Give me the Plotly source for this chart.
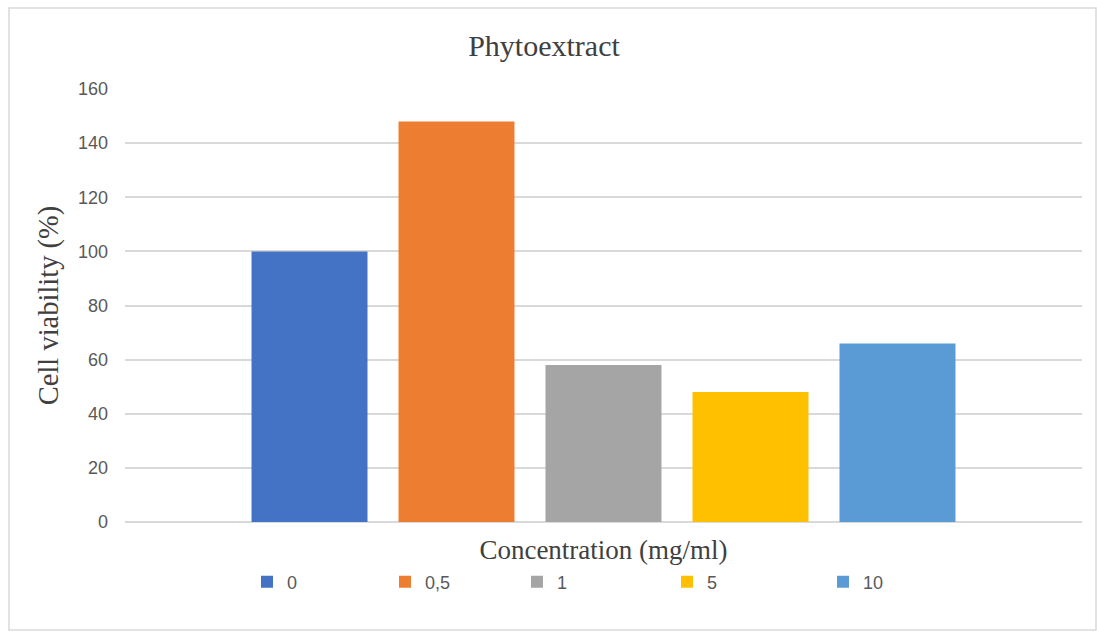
import plotly.graph_objects as go

category = ["Phytoextract"]
series_names = ["0", "0,5", "1", "5", "10"]
series_values = [100, 148, 58, 48, 66]
series_colors = ["#4472C4", "#ED7D31", "#A5A5A5", "#FFC000", "#5B9BD5"]
y_ticks = [0, 20, 40, 60, 80, 100, 120, 140, 160]

W, H = 1097, 632
L, R, T, B = 125, 15, 89, 110
pw, ph = W - L - R, H - T - B

def px_x(px):
    return (px - L) / pw

def px_y(py):
    return (H - B - py) / ph

fig = go.Figure()
legend_centers = [267, 405, 537, 687, 843]
for i, (name, val, col) in enumerate(zip(series_names, series_values, series_colors)):
    lg = "legend" if i == 0 else f"legend{i+1}"
    fig.add_trace(go.Bar(x=category, y=[val], name=name, marker=dict(color=col, line=dict(width=0)),
                         legend=lg))

legend_common = dict(orientation="h", yanchor="middle", xanchor="left",
                     font=dict(family="Liberation Sans, Arial, sans-serif", size=18, color="#595959"),
                     bgcolor="rgba(0,0,0,0)", borderwidth=0, itemwidth=30)
legends = {}
for i, c in enumerate(legend_centers):
    key = "legend" if i == 0 else f"legend{i+1}"
    legends[key] = dict(x=px_x(c - 20), y=px_y(582), **legend_common)

fig.update_layout(
    width=W, height=H,
    margin=dict(l=L, r=R, t=T, b=B, autoexpand=False),
    paper_bgcolor="white", plot_bgcolor="white",
    barmode="group", bargap=0.232, bargroupgap=0.211,
    title=dict(text="Phytoextract", x=544 / W, xref="container", xanchor="center",
               y=1 - 45 / H, yref="container", yanchor="middle",
               font=dict(family="Liberation Serif, Times New Roman, serif", size=30, color="#404040")),
    xaxis=dict(showticklabels=False, showgrid=False, showline=False, zeroline=False, ticks="",
               title=dict(text="Concentration (mg/ml)", standoff=18,
                          font=dict(family="Liberation Serif, Times New Roman, serif", size=27, color="#404040"))),
    yaxis=dict(range=[0, 160], tickvals=y_ticks, showgrid=True, gridcolor="#D9D9D9", gridwidth=1.5,
               zeroline=True, zerolinecolor="#D9D9D9", zerolinewidth=1.5, showline=False, ticks="",
               ticklabelstandoff=16,
               tickfont=dict(family="Liberation Sans, Arial, sans-serif", size=18, color="#595959"),
               title=dict(text="Cell viability (%)", standoff=10,
                          font=dict(family="Liberation Serif, Times New Roman, serif", size=28.5, color="#404040"))),
    showlegend=True,
    **legends,
)

fig.add_shape(type="rect", xref="paper", yref="paper",
              x0=px_x(9), x1=px_x(1096), y0=px_y(630), y1=px_y(8),
              line=dict(color="#D9D9D9", width=1.5), fillcolor="rgba(0,0,0,0)", layer="below")

fig.write_html("out.html")
